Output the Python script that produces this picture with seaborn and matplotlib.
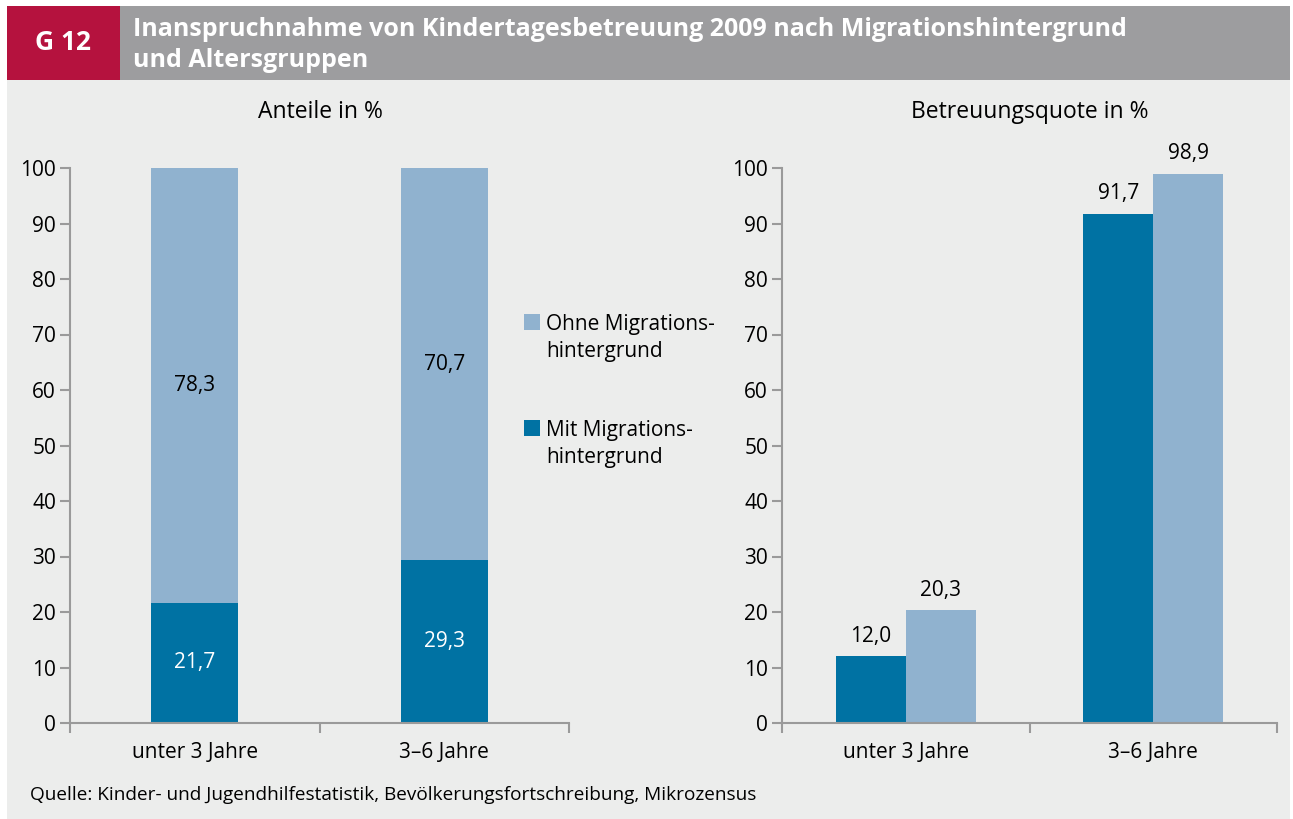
import matplotlib.pyplot as plt
import seaborn as sns
import pandas as pd
from matplotlib.patches import Rectangle

# data
altersgruppen = ["unter 3 Jahre", "3–6 Jahre"]
anteil_mit = [21.7, 29.3]
anteil_ohne = [78.3, 70.7]
quote_mit = [12.0, 91.7]
quote_ohne = [20.3, 98.9]
gruppen = ["Mit Migrations-\nhintergrund", "Ohne Migrations-\nhintergrund"]

dunkel = "#0072a3"
hell = "#90b2cf"
panel = "#ecedec"
spine_col = "#9a9a9a"

sns.set_style("white")
plt.rcParams["font.family"] = ["Open Sans", "DejaVu Sans"]
plt.rcParams["text.color"] = "black"
plt.rcParams["xtick.labelcolor"] = "black"
plt.rcParams["ytick.labelcolor"] = "black"

W, H = 1293, 819
fig = plt.figure(figsize=(W / 100, H / 100), dpi=100, facecolor="white")


def fx(x):
    return x / W


def fy(y):
    return 1 - y / H


# background panel and header
fig.patches.append(Rectangle((fx(7), 0), fx(1290) - fx(7), fy(80), transform=fig.transFigure,
                             facecolor=panel, edgecolor="none", zorder=-10))
fig.patches.append(Rectangle((fx(7), fy(80)), fx(120) - fx(7), fy(6) - fy(80), transform=fig.transFigure,
                             facecolor="#b5123e", edgecolor="none", zorder=-10))
fig.patches.append(Rectangle((fx(120), fy(80)), fx(1290) - fx(120), fy(6) - fy(80), transform=fig.transFigure,
                             facecolor="#9d9d9f", edgecolor="none", zorder=-10))
fig.text(fx(63), fy(43), "G 12", color="white", fontsize=19, fontweight="bold", ha="center", va="center")
fig.text(fx(133), fy(17), "Inanspruchnahme von Kindertagesbetreuung 2009 nach Migrationshintergrund\nund Altersgruppen",
         color="white", fontsize=18, fontweight="bold", ha="left", va="top", linespacing=1.3)

ax1 = fig.add_axes([fx(70), fy(723), fx(569) - fx(70), fy(168) - fy(723)])
ax2 = fig.add_axes([fx(782), fy(723), fx(1277) - fx(782), fy(168) - fy(723)])

# left: stacked shares
df_links = pd.DataFrame({"alter": altersgruppen, "mit": anteil_mit, "ohne": anteil_ohne})
df_links["gesamt"] = df_links["mit"] + df_links["ohne"]
sns.barplot(data=df_links, x="alter", y="gesamt", color=hell, width=0.35, saturation=1, linewidth=0, ax=ax1)
sns.barplot(data=df_links, x="alter", y="mit", color=dunkel, width=0.35, saturation=1, linewidth=0, ax=ax1)
for i, row in df_links.iterrows():
    ax1.text(i, row["mit"] / 2, f"{row['mit']:.1f}".replace(".", ","), color="white",
             ha="center", va="center", fontsize=15)
    ax1.text(i, row["mit"] + row["ohne"] / 2, f"{row['ohne']:.1f}".replace(".", ","), color="black",
             ha="center", va="center", fontsize=15)

# right: grouped quotas
df_rechts = pd.DataFrame({
    "alter": altersgruppen * 2,
    "gruppe": [gruppen[0]] * 2 + [gruppen[1]] * 2,
    "quote": quote_mit + quote_ohne,
})
sns.barplot(data=df_rechts, x="alter", y="quote", hue="gruppe", hue_order=gruppen,
            palette=[dunkel, hell], width=0.566, saturation=1, gap=0, linewidth=0, legend=False, ax=ax2)
for cont in ax2.containers:
    ax2.bar_label(cont, labels=[f"{b.get_height():.1f}".replace(".", ",") for b in cont],
                  padding=7, fontsize=15)

for ax in (ax1, ax2):
    ax.set_zorder(2)
    ax.set_facecolor("none")
    ax.set_xlim(-0.5, 1.5)
    ax.set_ylim(0, 100)
    ax.set_yticks(range(0, 101, 10))
    ax.set_xticks([-0.5, 0.5, 1.5])
    ax.set_xticklabels([])
    ax.set_xticks([0, 1], minor=True)
    ax.set_xticklabels(altersgruppen, minor=True)
    ax.tick_params(axis="x", which="minor", bottom=False, length=0, pad=14, labelsize=15)
    ax.tick_params(axis="x", which="major", bottom=True, length=7, width=1.5, color=spine_col, direction="out")
    ax.tick_params(axis="y", left=True, length=7, width=1.5, color=spine_col, direction="out", labelsize=15, pad=3)
    ax.set_xlabel("")
    ax.set_ylabel("")
    for s in ("top", "right"):
        ax.spines[s].set_visible(False)
    for s in ("left", "bottom"):
        ax.spines[s].set_color(spine_col)
        ax.spines[s].set_linewidth(1.5)

fig.text(fx(320), fy(112), "Anteile in %", ha="center", va="center", fontsize=16.5)
fig.text(fx(1030), fy(112), "Betreuungsquote in %", ha="center", va="center", fontsize=16.5)

# legend
for y_box, col, txt in [(322, hell, gruppen[1]), (428, dunkel, gruppen[0])]:
    fig.patches.append(Rectangle((fx(524), fy(y_box + 8)), fx(16), 16 / H, transform=fig.transFigure,
                                 facecolor=col, edgecolor="none"))
    fig.text(fx(546), fy(y_box - 8), txt, ha="left", va="top", fontsize=15, linespacing=1.4)

fig.text(fx(30), fy(795), "Quelle: Kinder- und Jugendhilfestatistik, Bevölkerungsfortschreibung, Mikrozensus",
         ha="left", va="center", fontsize=13.7)

fig.savefig("out.png", dpi=100, facecolor=fig.get_facecolor())
